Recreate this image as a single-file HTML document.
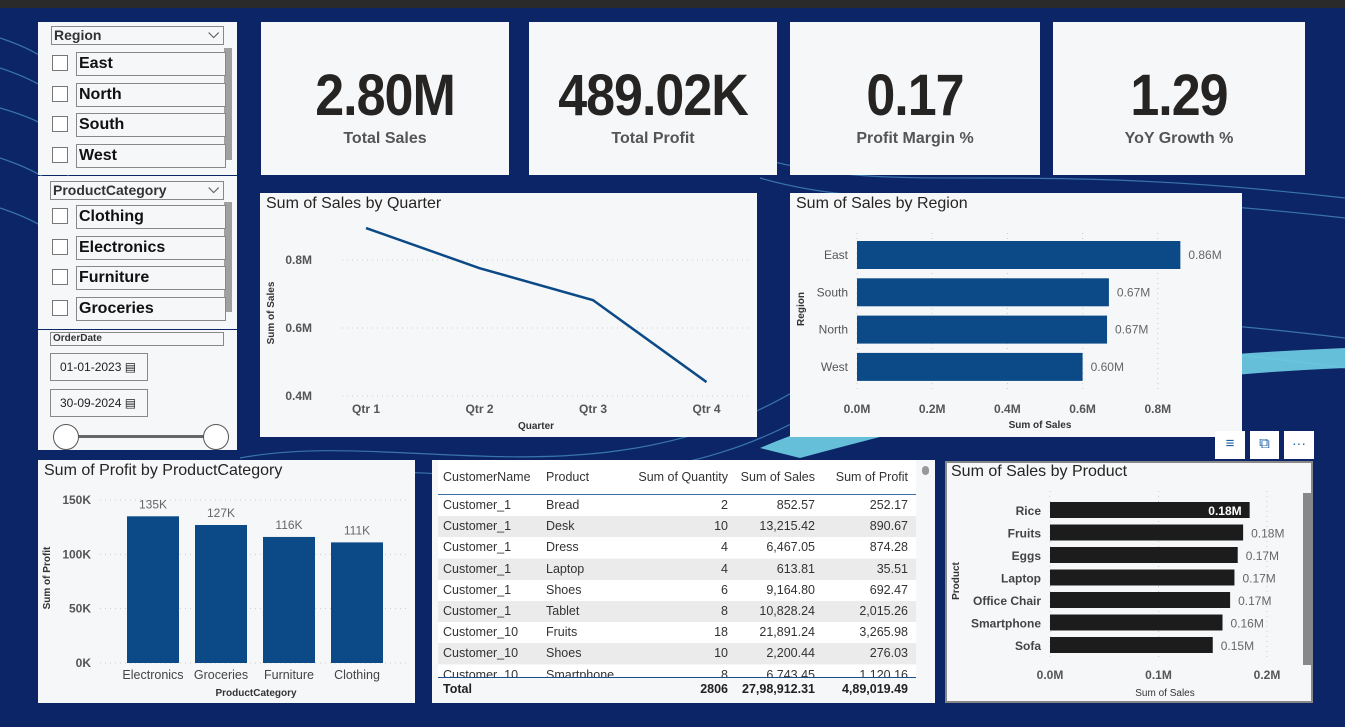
<!DOCTYPE html>
<html><head><meta charset="utf-8">
<style>
*{box-sizing:border-box;margin:0;padding:0}
body{width:1345px;height:727px;overflow:hidden;background:#0c2567;font-family:"Liberation Sans",sans-serif;position:relative}
.abs{position:absolute}
.panel{position:absolute;background:#f6f7f9}
.kpi{position:absolute;background:#f6f7f9;text-align:center}
.kpi .v{font-size:52px;font-weight:bold;color:#252423;position:absolute;left:0;right:0;top:44px;letter-spacing:-1px;transform:scaleY(1.12)}
.kpi .l{font-size:16px;font-weight:bold;color:#555;position:absolute;left:0;right:0;top:108px}
.title{position:absolute;left:6px;top:2px;font-size:16px;color:#252423}
.item{position:absolute;height:24px;font-size:16px;font-weight:bold;color:#111}
.cb{position:absolute;width:16px;height:16px;border:1px solid #777;background:#fff}
.box{position:absolute;border:1px solid #888;background:#f6f7f9;padding-left:2px}
svg text{font-family:"Liberation Sans",sans-serif}
</style></head><body>
<div class="abs" style="left:0;top:0;width:1345px;height:8px;background:#2a2a2a"></div>
<svg class="abs" style="left:0;top:8px" width="1345" height="719">
<g fill="none" stroke="#5fb8e0" stroke-width="1.2" opacity="0.55">
<path d="M0 30 C60 50 90 80 40 120"/><path d="M0 60 C60 80 100 110 40 160"/><path d="M0 100 C70 120 100 150 40 200"/>
<path d="M0 150 C60 170 100 200 40 250"/><path d="M0 200 C60 220 100 250 40 300"/>
<path d="M240 450 C400 420 600 500 800 380 C950 300 1100 300 1345 330"/>
<path d="M240 470 C420 440 620 520 820 400 C970 320 1120 330 1345 360"/>
<path d="M760 150 C900 190 1000 150 1345 190"/><path d="M760 170 C900 210 1000 170 1345 210"/>
</g>
<path d="M760 440 C900 380 1100 350 1345 340 L1345 360 C1100 370 950 410 800 450 Z" fill="#6fd0e6" opacity="0.9"/>
</svg>

<div class="panel" style="left:38px;top:22px;width:199px;height:153px">
<div class="box" style="left:13px;top:4px;width:173px;height:19px;font-size:14px;font-weight:bold;color:#333">Region<span style="position:absolute;right:4px;top:-2px;color:#666">⌵</span></div>
<div class="abs" style="left:186px;top:26px;width:8px;height:112px;background:#a0a0a0"></div>
</div>
<div class="panel" style="left:38px;top:176px;width:199px;height:153px">
<div class="box" style="left:12px;top:5px;width:174px;height:19px;font-size:14px;font-weight:bold;color:#333">ProductCategory<span style="position:absolute;right:4px;top:-2px;color:#666">⌵</span></div>
<div class="abs" style="left:186px;top:26px;width:8px;height:110px;background:#a0a0a0"></div>
</div>
<div class="panel" style="left:38px;top:330px;width:199px;height:120px">
<div class="box" style="left:12px;top:2px;width:174px;height:14px;font-size:10px;font-weight:bold;color:#333">OrderDate</div>
<div class="box" style="left:12px;top:23px;width:98px;height:28px;font-size:12px;line-height:26px;padding-left:9px;color:#222">01-01-2023 ▤</div>
<div class="box" style="left:12px;top:59px;width:98px;height:28px;font-size:12px;line-height:26px;padding-left:9px;color:#222">30-09-2024 ▤</div>
<div class="abs" style="left:28px;top:105px;width:150px;height:3px;background:#666"></div>
<div class="abs" style="left:15px;top:94px;width:26px;height:26px;border-radius:50%;border:1.5px solid #555;background:#fff"></div>
<div class="abs" style="left:165px;top:94px;width:26px;height:26px;border-radius:50%;border:1.5px solid #555;background:#fff"></div>
</div>
<div id="slicers"></div>

<div class="kpi" style="left:261px;top:22px;width:248px;height:153px"><div class="v">2.80M</div><div class="l">Total Sales</div></div>
<div class="kpi" style="left:529px;top:22px;width:248px;height:153px"><div class="v">489.02K</div><div class="l">Total Profit</div></div>
<div class="kpi" style="left:790px;top:22px;width:250px;height:153px"><div class="v">0.17</div><div class="l">Profit Margin %</div></div>
<div class="kpi" style="left:1053px;top:22px;width:252px;height:153px"><div class="v">1.29</div><div class="l">YoY Growth %</div></div>

<div class="panel" style="left:260px;top:193px;width:497px;height:244px">
<div class="title">Sum of Sales by Quarter</div>
<svg id="lineSvg" class="abs" style="left:0;top:0" width="497" height="244"></svg></div>

<div class="panel" style="left:790px;top:193px;width:452px;height:244px">
<div class="title">Sum of Sales by Region</div>
<svg id="regSvg" class="abs" style="left:0;top:0" width="452" height="244"></svg></div>

<div class="panel" style="left:38px;top:460px;width:377px;height:243px">
<div class="title">Sum of Profit by ProductCategory</div>
<svg id="profSvg" class="abs" style="left:0;top:0" width="377" height="243"></svg></div>

<div class="panel" style="left:432px;top:460px;width:503px;height:243px">
<div class="abs" style="left:490px;top:6px;width:7px;height:9px;border-radius:4px;background:#999"></div>
<div id="tbl" class="abs" style="left:6px;top:0;width:478px;height:243px;overflow:hidden"></div>
</div>

<div class="abs" style="left:1215px;top:431px">
<div class="abs" style="left:0;top:0;width:30px;height:28px;background:#fff;color:#1a5fa6;text-align:center;line-height:26px;font-size:15px">≡</div>
<div class="abs" style="left:35px;top:0;width:29px;height:28px;background:#fff;color:#1a5fa6;text-align:center;line-height:26px;font-size:15px">⧉</div>
<div class="abs" style="left:69px;top:0;width:30px;height:28px;background:#fff;color:#1a5fa6;text-align:center;line-height:24px;font-size:14px">···</div>
</div>
<div class="panel" style="left:945px;top:461px;width:368px;height:242px;border:2px solid #888">
<div class="title" style="left:4px;top:0px">Sum of Sales by Product</div>
<div class="abs" style="left:356px;top:30px;width:8px;height:172px;background:#888"></div>
<svg id="prodSvg" class="abs" style="left:-2px;top:-2px" width="368" height="242"></svg></div>

<script>
const NS="http://www.w3.org/2000/svg";
function mk(p,tag,at,txt){const e=document.createElementNS(NS,tag);for(const k in at)e.setAttribute(k,at[k]);if(txt!==undefined)e.textContent=txt;p.appendChild(e);return e;}

const regions=["East","North","South","West"];
const categories=["Clothing","Electronics","Furniture","Groceries"];
const sl=document.getElementById('slicers');
function slicer(items,top0,step,prefix){
 items.forEach((t,i)=>{
  const y=top0+i*step;
  const c=document.createElement('div');c.className='cb';c.style.left='52px';c.style.top=(y+3)+'px';
  
  
  sl.appendChild(c);
  const b=document.createElement('div');b.className='box item';b.style.left='76px';b.style.top=y+'px';b.style.width='150px';b.style.lineHeight='22px';b.textContent=t;
  
  
  sl.appendChild(b);
 });
}
slicer(regions,52,30.7,'region');
slicer(categories,205,30.7,'category');

const quarters=["Qtr 1","Qtr 2","Qtr 3","Qtr 4"];
const quarterSales=[0.894,0.776,0.682,0.441];
const lineTicks=[0.4,0.6,0.8];
(function(){
 const s=document.getElementById('lineSvg');
 const x=i=>106+i*113.5, y=v=>203-(v-0.4)*340;
 lineTicks.forEach(t=>{mk(s,'line',{x1:82,x2:490,y1:y(t),y2:y(t),stroke:'#ccc','stroke-dasharray':'1,4'});
  const e=mk(s,'text',{x:52,y:y(t)+4,'font-size':12,'font-weight':'bold',fill:'#555','text-anchor':'end'},t.toFixed(1)+'M');
  });
 quarters.forEach((q,i)=>{const e=mk(s,'text',{x:x(i),y:220,'font-size':12,'font-weight':'bold',fill:'#555','text-anchor':'middle'},q);
  });
 const p=mk(s,'polyline',{points:quarterSales.map((v,i)=>x(i)+','+y(v)).join(' '),fill:'none',stroke:'#0b4a86','stroke-width':2.5});
 
 const xt=mk(s,'text',{x:276,y:236,'font-size':10,'font-weight':'bold',fill:'#333','text-anchor':'middle'},'Quarter');
 
 const yt=mk(s,'text',{x:0,y:0,'font-size':10,'font-weight':'bold',fill:'#333','text-anchor':'middle',transform:'translate(14,120) rotate(-90)'},'Sum of Sales');
 
})();

const regionNames=["East","South","North","West"];
const regionSales=[0.86,0.67,0.665,0.60];
const regionTicks=[0,0.2,0.4,0.6,0.8];
(function(){
 const s=document.getElementById('regSvg');
 const x=v=>67+v*376, y=i=>48+i*37.3;
 regionTicks.forEach(t=>{mk(s,'line',{x1:x(t),x2:x(t),y1:40,y2:200,stroke:'#ccc','stroke-dasharray':'1,4'});
  const e=mk(s,'text',{x:x(t),y:220,'font-size':12,'font-weight':'bold',fill:'#555','text-anchor':'middle'},t.toFixed(1)+'M');
  });
 regionNames.forEach((r,i)=>{
  const b=mk(s,'rect',{x:x(0),y:y(i),width:x(regionSales[i])-x(0),height:28,fill:'#0b4a86'});
  
  mk(s,'text',{x:58,y:y(i)+18,'font-size':12,fill:'#555','text-anchor':'end'},r);
  mk(s,'text',{x:x(regionSales[i])+8,y:y(i)+18,'font-size':12,fill:'#666'},regionSales[i].toFixed(2)+'M');
 });
 mk(s,'text',{x:250,y:235,'font-size':10,'font-weight':'bold',fill:'#333','text-anchor':'middle'},'Sum of Sales');
 mk(s,'text',{x:0,y:0,'font-size':10,'font-weight':'bold',fill:'#333','text-anchor':'middle',transform:'translate(14,116) rotate(-90)'},'Region');
})();

const profitCats=["Electronics","Groceries","Furniture","Clothing"];
const profitVals=[135,127,116,111];
const profitTicks=[0,50,100,150];
(function(){
 const s=document.getElementById('profSvg');
 const y=v=>203-v*163/150, x=i=>89+i*68;
 profitTicks.forEach(t=>{mk(s,'line',{x1:62,x2:372,y1:y(t),y2:y(t),stroke:'#ccc','stroke-dasharray':'1,4'});
  const e=mk(s,'text',{x:53,y:y(t)+4,'font-size':12,'font-weight':'bold',fill:'#555','text-anchor':'end'},t+'K');
  });
 profitCats.forEach((c,i)=>{
  const b=mk(s,'rect',{x:x(i),y:y(profitVals[i]),width:52,height:y(0)-y(profitVals[i]),fill:'#0b4a86'});
  
  mk(s,'text',{x:x(i)+26,y:y(profitVals[i])-8,'font-size':12,fill:'#666','text-anchor':'middle'},profitVals[i]+'K');
  mk(s,'text',{x:x(i)+26,y:219,'font-size':12.5,fill:'#444','text-anchor':'middle'},c);
 });
 mk(s,'text',{x:218,y:236,'font-size':10,'font-weight':'bold',fill:'#333','text-anchor':'middle'},'ProductCategory');
 mk(s,'text',{x:0,y:0,'font-size':10,'font-weight':'bold',fill:'#333','text-anchor':'middle',transform:'translate(12,118) rotate(-90)'},'Sum of Profit');
})();

const products=["Rice","Fruits","Eggs","Laptop","Office Chair","Smartphone","Sofa"];
const productSales=[0.184,0.178,0.173,0.170,0.166,0.159,0.150];
const productTicks=[0,0.1,0.2];
(function(){
 const s=document.getElementById('prodSvg');
 const x=v=>105+v*1085, y=i=>41+i*22.5;
 productTicks.forEach(t=>{mk(s,'line',{x1:x(t),x2:x(t),y1:30,y2:200,stroke:'#ccc','stroke-dasharray':'1,4'});
  mk(s,'text',{x:x(t),y:218,'font-size':12,'font-weight':'bold',fill:'#555','text-anchor':'middle'},t.toFixed(1)+'M');});
 products.forEach((p,i)=>{
  const b=mk(s,'rect',{x:x(0),y:y(i),width:x(productSales[i])-x(0),height:16,fill:'#1c1c1c'});
  
  mk(s,'text',{x:96,y:y(i)+13,'font-size':12,'font-weight':'bold',fill:'#444','text-anchor':'end'},p);
  const lbl=productSales[i].toFixed(2)+'M';
  if(i===0) mk(s,'text',{x:x(productSales[i])-8,y:y(i)+13,'font-size':12,'font-weight':'bold',fill:'#fff','text-anchor':'end'},lbl);
  else mk(s,'text',{x:x(productSales[i])+8,y:y(i)+13,'font-size':12,fill:'#666'},lbl);
 });
 mk(s,'text',{x:220,y:235,'font-size':10,fill:'#333','text-anchor':'middle'},'Sum of Sales');
 mk(s,'text',{x:0,y:0,'font-size':10,'font-weight':'bold',fill:'#333','text-anchor':'middle',transform:'translate(14,120) rotate(-90)'},'Product');
})();

const rows=[["Customer_1","Bread","2","852.57","252.17"],["Customer_1","Desk","10","13,215.42","890.67"],["Customer_1","Dress","4","6,467.05","874.28"],["Customer_1","Laptop","4","613.81","35.51"],["Customer_1","Shoes","6","9,164.80","692.47"],["Customer_1","Tablet","8","10,828.24","2,015.26"],["Customer_10","Fruits","18","21,891.24","3,265.98"],["Customer_10","Shoes","10","2,200.44","276.03"],["Customer_10","Smartphone","8","6,743.45","1,120.16"]];
(function(){
 const t=document.getElementById('tbl');
 let h='<div style="position:absolute;left:0;top:0;width:478px;height:34px;background:#fff"></div>';
 const cols=[[5,'left'],[108,'left'],[290,'right'],[377,'right'],[470,'right']];
 const head=["CustomerName","Product","Sum of Quantity","Sum of Sales","Sum of Profit"];
 head.forEach((c,i)=>{const [x,a]=cols[i];h+=`<div style="position:absolute;top:10px;${a==='left'?'left:'+x:'right:'+(478-x)}px;font-size:12.5px;color:#333;white-space:nowrap">${c}</div>`;});
 h+='<div style="position:absolute;left:0;top:34px;width:478px;height:1px;background:#3a6ea5"></div>';
 rows.forEach((r,ri)=>{const y=35+ri*21.2;
  h+=`<div style="position:absolute;left:0;top:${y}px;width:478px;height:21px;background:${ri%2?'#ebebeb':'#fff'}"></div>`;
  r.forEach((c,i)=>{const [x,a]=cols[i];h+=`<div style="position:absolute;top:${y+3}px;${a==='left'?'left:'+x:'right:'+(478-x)}px;font-size:12.5px;color:#333;white-space:nowrap">${c}</div>`;});
 });
 h+='<div style="position:absolute;left:0;top:217px;width:478px;height:26px;background:#f6f7f9;border-top:1.5px solid #1b4f8a"></div>';
 const tot=["Total","","2806","27,98,912.31","4,89,019.49"];
 tot.forEach((c,i)=>{const [x,a]=cols[i];h+=`<div style="position:absolute;top:222px;${a==='left'?'left:'+x:'right:'+(478-x)}px;font-size:12.5px;font-weight:bold;color:#222;white-space:nowrap">${c}</div>`;});
 t.innerHTML=h;
})();
</script>
</body></html>
